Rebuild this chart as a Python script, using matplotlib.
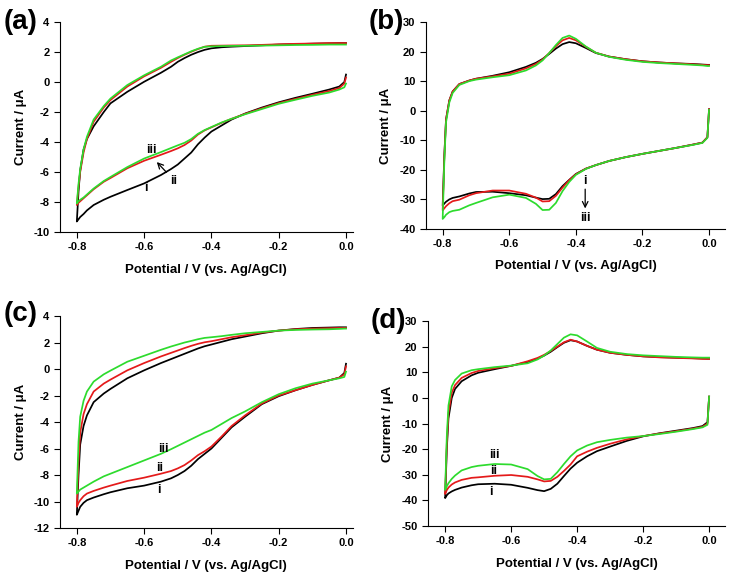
import matplotlib
matplotlib.use("Agg")
import matplotlib.pyplot as plt

plt.rcParams["font.family"] = ["Liberation Sans", "DejaVu Sans"]
plt.rcParams["font.weight"] = "bold"

# potential grid (V vs Ag/AgCl), shared by every branch
E = [-0.8, -0.795, -0.79, -0.78, -0.77, -0.75, -0.72, -0.7, -0.65, -0.6,
     -0.55, -0.52, -0.5, -0.48, -0.46, -0.44, -0.42, -0.4, -0.37, -0.34,
     -0.3, -0.25, -0.2, -0.15, -0.1, -0.05, -0.02, -0.005, 0.0]

# ---- panel (a) ----
a_up_i = [-9.3, -7.3, -5.9, -4.5, -3.8, -2.95, -2.0, -1.42, -0.65, 0.02,
          0.62, 1.02, 1.35, 1.6, 1.82, 2.0, 2.15, 2.25, 2.32, 2.36,
          2.4, 2.45, 2.5, 2.53, 2.56, 2.58, 2.6, 2.6, 2.6]
a_up_ii = [-8.2, -7.0, -6.0, -4.7, -3.8, -2.65, -1.7, -1.2, -0.3, 0.38,
           0.95, 1.35, 1.6, 1.82, 2.02, 2.2, 2.36, 2.42, 2.43, 2.44,
           2.45, 2.48, 2.52, 2.55, 2.57, 2.6, 2.6, 2.6, 2.6]
a_up_iii = [-8.1, -6.8, -5.8, -4.5, -3.65, -2.5, -1.6, -1.1, -0.2, 0.45,
            1.02, 1.44, 1.65, 1.85, 2.05, 2.22, 2.35, 2.38, 2.4, 2.41,
            2.42, 2.43, 2.45, 2.47, 2.48, 2.5, 2.5, 2.5, 2.5]
a_lo_i = [-9.3, -9.15, -9.0, -8.8, -8.56, -8.2, -7.85, -7.65, -7.2, -6.76,
          -6.2, -5.8, -5.5, -5.1, -4.7, -4.15, -3.7, -3.3, -2.9, -2.5,
          -2.1, -1.7, -1.35, -1.05, -0.78, -0.5, -0.3, 0.0, 0.5]
a_lo_ii = [-8.2, -8.05, -7.95, -7.75, -7.55, -7.15, -6.65, -6.4, -5.75, -5.25,
           -4.85, -4.6, -4.42, -4.2, -3.9, -3.5, -3.22, -3.02, -2.72, -2.45,
           -2.12, -1.75, -1.4, -1.12, -0.85, -0.6, -0.4, -0.1, 0.3]
a_lo_iii = [-8.1, -7.95, -7.85, -7.7, -7.5, -7.1, -6.6, -6.33, -5.67, -5.1,
            -4.67, -4.4, -4.22, -4.05, -3.8, -3.45, -3.2, -3.0, -2.7, -2.45,
            -2.15, -1.8, -1.45, -1.18, -0.92, -0.7, -0.5, -0.35, -0.1]

# ---- panel (b) ----
b_up_i = [-32.1, -15.0, -3.0, 3.5, 6.5, 9.0, 10.2, 10.8, 11.8, 13.0,
          14.8, 16.2, 17.5, 19.2, 21.0, 22.5, 23.2, 22.8, 21.2, 19.5,
          18.3, 17.4, 16.7, 16.3, 16.0, 15.8, 15.6, 15.5, 15.5]
b_up_ii = [-33.7, -15.5, -3.0, 3.5, 6.5, 9.0, 10.2, 10.8, 11.6, 12.5,
           14.3, 15.8, 17.3, 19.5, 21.8, 23.8, 24.6, 23.8, 21.6, 19.6,
           18.3, 17.4, 16.7, 16.3, 16.0, 15.7, 15.5, 15.4, 15.4]
b_up_iii = [-36.6, -17.0, -4.0, 2.8, 6.0, 8.7, 10.0, 10.5, 11.3, 12.0,
            13.6, 15.3, 17.0, 19.5, 22.2, 24.6, 25.4, 24.3, 21.7, 19.6,
            18.2, 17.2, 16.5, 16.1, 15.8, 15.5, 15.3, 15.1, 15.1]
b_lo_i = [-32.1, -31.4, -30.8, -30.0, -29.5, -29.0, -28.0, -27.5, -27.4, -27.9,
          -28.6, -29.4, -29.9, -29.8, -28.2, -25.5, -23.4, -21.4, -19.6, -18.4,
          -17.0, -15.7, -14.6, -13.6, -12.6, -11.5, -10.8, -9.0, 0.5]
b_lo_ii = [-33.7, -33.0, -32.3, -31.3, -30.6, -30.1, -28.6, -27.9, -27.0, -27.0,
           -28.1, -29.4, -30.7, -30.6, -28.8, -26.0, -23.5, -21.5, -19.6, -18.4,
           -17.0, -15.7, -14.6, -13.6, -12.6, -11.5, -10.8, -9.0, 0.5]
b_lo_iii = [-36.6, -36.0, -35.2, -34.3, -33.9, -33.5, -32.0, -31.2, -29.3, -28.4,
            -29.5, -31.5, -33.6, -33.5, -31.2, -27.2, -24.1, -21.7, -19.7, -18.4,
            -17.0, -15.7, -14.6, -13.6, -12.6, -11.6, -10.9, -9.2, 0.3]

# ---- panel (c) ----
c_up_i = [-11.0, -8.0, -5.7, -4.3, -3.5, -2.5, -1.85, -1.5, -0.7, -0.1,
          0.45, 0.75, 0.95, 1.15, 1.35, 1.55, 1.72, 1.85, 2.05, 2.25,
          2.45, 2.7, 2.9, 3.02, 3.1, 3.13, 3.15, 3.15, 3.15]
c_up_ii = [-10.4, -7.0, -4.8, -3.4, -2.65, -1.7, -1.1, -0.8, -0.1, 0.45,
           0.95, 1.22, 1.4, 1.58, 1.75, 1.9, 2.02, 2.1, 2.25, 2.4,
           2.55, 2.75, 2.9, 3.0, 3.05, 3.08, 3.1, 3.1, 3.1]
c_up_iii = [-9.4, -5.5, -3.6, -2.4, -1.7, -0.95, -0.4, -0.12, 0.55, 1.0,
            1.45, 1.7, 1.85, 2.0, 2.12, 2.25, 2.35, 2.4, 2.48, 2.58,
            2.7, 2.8, 2.9, 2.95, 2.98, 3.0, 3.03, 3.05, 3.05]
c_lo_i = [-11.0, -10.7, -10.4, -10.1, -9.9, -9.7, -9.45, -9.3, -9.0, -8.8,
          -8.5, -8.25, -8.0, -7.7, -7.3, -6.8, -6.4, -6.0, -5.2, -4.4,
          -3.6, -2.65, -2.05, -1.6, -1.2, -0.85, -0.65, -0.3, 0.4]
c_lo_ii = [-10.4, -10.1, -9.9, -9.6, -9.4, -9.2, -8.95, -8.8, -8.45, -8.2,
           -7.9, -7.7, -7.5, -7.25, -6.9, -6.5, -6.2, -5.85, -5.1, -4.3,
           -3.5, -2.6, -2.0, -1.6, -1.2, -0.85, -0.65, -0.4, 0.2]
c_lo_iii = [-9.4, -9.25, -9.1, -8.95, -8.8, -8.5, -8.1, -7.9, -7.4, -6.9,
            -6.4, -6.05, -5.8, -5.55, -5.3, -5.05, -4.8, -4.6, -4.15, -3.7,
            -3.2, -2.5, -1.9, -1.45, -1.1, -0.85, -0.7, -0.6, -0.2]

# ---- panel (d) ----
d_up_i = [-39.1, -20.0, -8.0, 0.0, 3.5, 6.5, 8.8, 9.8, 11.2, 12.5,
          14.0, 15.3, 16.5, 18.0, 19.8, 21.5, 22.5, 22.0, 20.3, 18.8,
          17.6, 16.8, 16.2, 15.9, 15.7, 15.5, 15.4, 15.3, 15.3]
d_up_ii = [-37.5, -18.0, -6.0, 2.0, 5.0, 7.8, 9.7, 10.5, 11.6, 12.5,
           14.3, 15.6, 16.8, 18.3, 20.0, 21.7, 22.7, 22.0, 20.3, 18.8,
           17.6, 16.8, 16.2, 15.8, 15.6, 15.4, 15.2, 15.2, 15.2]
d_up_iii = [-35.9, -15.0, -3.0, 4.5, 7.0, 9.5, 10.8, 11.2, 12.0, 12.6,
            13.5, 15.0, 16.5, 18.5, 21.0, 23.5, 24.8, 24.4, 22.0, 19.5,
            18.0, 17.1, 16.6, 16.3, 16.0, 15.8, 15.7, 15.7, 15.7]
d_lo_i = [-39.1, -38.0, -37.3, -36.5, -35.9, -35.0, -34.1, -33.7, -33.5, -33.9,
          -35.1, -36.0, -36.4, -35.5, -33.5, -30.5, -27.6, -25.3, -22.8, -20.8,
          -19.0, -16.8, -15.0, -13.8, -12.8, -11.8, -11.0, -9.5, 0.5]
d_lo_ii = [-37.5, -36.0, -35.0, -33.8, -33.0, -32.0, -31.2, -31.0, -30.4, -30.1,
           -30.8, -31.8, -32.6, -32.4, -30.8, -28.5, -26.0, -22.8, -21.0, -19.5,
           -17.9, -16.2, -14.9, -13.9, -13.0, -12.0, -11.3, -10.0, 0.5]
d_lo_iii = [-35.9, -34.5, -33.3, -31.6, -30.3, -28.3, -27.0, -26.5, -25.8, -26.0,
            -27.8, -30.5, -31.8, -31.6, -29.0, -25.8, -22.8, -20.5, -18.6, -17.3,
            -16.4, -15.5, -14.9, -14.1, -13.2, -12.2, -11.5, -10.5, 0.5]

colors = ["black", "#e41a1a", "#2ddb2d"]
XLABEL = "Potential / V (vs. Ag/AgCl)"
YLABEL = "Current / \u03bcA"

panels = [
    # letter, rect, xlim, ylim, ystep, [(up, lo) for i, ii, iii]
    ("(a)", [0.0822, 0.5944, 0.401, 0.367], (-0.85, 0.02), (-10, 4), 2,
     [(a_up_i, a_lo_i), (a_up_ii, a_lo_ii), (a_up_iii, a_lo_iii)]),
    ("(b)", [0.5836, 0.5997, 0.4096, 0.3619], (-0.85, 0.048), (-40, 30), 10,
     [(b_up_i, b_lo_i), (b_up_ii, b_lo_ii), (b_up_iii, b_lo_iii)]),
    ("(c)", [0.0822, 0.0769, 0.401, 0.3706], (-0.85, 0.02), (-12, 4), 2,
     [(c_up_i, c_lo_i), (c_up_ii, c_lo_ii), (c_up_iii, c_lo_iii)]),
    ("(d)", [0.5863, 0.0804, 0.4068, 0.3584], (-0.852, 0.048), (-50, 30), 10,
     [(d_up_i, d_lo_i), (d_up_ii, d_lo_ii), (d_up_iii, d_lo_iii)]),
]

fig = plt.figure(figsize=(7.3, 5.72), dpi=100)
axes = []
for letter, rect, xlim, ylim, ystep, curves in panels:
    ax = fig.add_axes(rect)
    for (up, lo), col in zip(curves, colors):
        # cathodic sweep 0 -> -0.8, then anodic sweep back to 0
        ax.plot(E[::-1] + E, lo[::-1] + up, color=col, lw=1.25,
                solid_joinstyle="round")
    ax.set_xlim(*xlim)
    ax.set_ylim(*ylim)
    ax.set_xticks([-0.8, -0.6, -0.4, -0.2, 0.0])
    ax.set_xticklabels(["-0.8", "-0.6", "-0.4", "-0.2", "0.0"])
    yt = list(range(ylim[0], ylim[1] + 1, ystep))
    ax.set_yticks(yt)
    ax.set_yticklabels([str(v) for v in yt])
    ax.spines["top"].set_visible(False)
    ax.spines["right"].set_visible(False)
    ax.tick_params(direction="out", length=4, labelsize=8)
    ax.set_xlabel(XLABEL, fontsize=9.5, fontweight="bold", labelpad=8)
    ax.set_ylabel(YLABEL, fontsize=9.5, fontweight="bold", labelpad=5)
    axes.append(ax)

# panel letters
fig.text(0.005, 1 - 22 / 572, "(a)", fontsize=20, fontweight="bold", va="center")
fig.text(0.505, 1 - 22 / 572, "(b)", fontsize=20, fontweight="bold", va="center")
fig.text(0.005, 1 - 314 / 572, "(c)", fontsize=20, fontweight="bold", va="center")
fig.text(0.508, 1 - 321 / 572, "(d)", fontsize=20, fontweight="bold", va="center")

lab = dict(fontsize=9, fontweight="bold", ha="center", va="center")
ax_a, ax_b, ax_c, ax_d = axes
ax_a.text(-0.578, -4.56, "iii", **lab)
ax_a.text(-0.512, -6.6, "ii", **lab)
ax_a.text(-0.596, -7.05, "i", **lab)
ax_a.annotate("", xy=(-0.568, -5.2), xytext=(-0.528, -6.15),
              arrowprops=dict(arrowstyle="->", color="black", lw=0.9))

ax_b.text(-0.372, -23.7, "i", **lab)
ax_b.text(-0.372, -36.3, "iii", **lab)
ax_b.annotate("", xy=(-0.372, -34.0), xytext=(-0.372, -25.6),
              arrowprops=dict(arrowstyle="->", color="black", lw=0.9))

ax_c.text(-0.543, -6.0, "iii", **lab)
ax_c.text(-0.553, -7.5, "ii", **lab)
ax_c.text(-0.555, -9.1, "i", **lab)

ax_d.text(-0.652, -22.4, "iii", **lab)
ax_d.text(-0.652, -28.4, "ii", **lab)
ax_d.text(-0.66, -36.6, "i", **lab)

fig.savefig("out.png", dpi=100)
